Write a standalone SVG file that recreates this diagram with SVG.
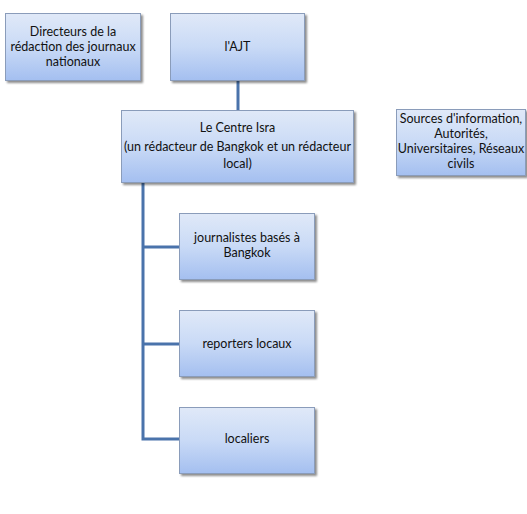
<svg xmlns="http://www.w3.org/2000/svg" width="527" height="514" viewBox="0 0 527 514">
<defs>
<linearGradient id="g" x1="0" y1="0" x2="0" y2="1">
<stop offset="0" stop-color="#e0e9f8"/>
<stop offset="0.5" stop-color="#c9daf6"/>
<stop offset="1" stop-color="#a4bff0"/>
</linearGradient>
<filter id="sh" x="-10%" y="-10%" width="125%" height="130%">
<feGaussianBlur in="SourceAlpha" stdDeviation="1.2"/>
<feOffset dx="1.5" dy="2" result="b"/>
<feComponentTransfer><feFuncA type="linear" slope="0.45"/></feComponentTransfer>
<feMerge><feMergeNode/><feMergeNode in="SourceGraphic"/></feMerge>
</filter>
</defs>
<style>
.box{fill:url(#g);stroke:#8a9cba;stroke-width:1;filter:url(#sh)}
.t{font-family:Lato,"Open Sans","Liberation Sans",sans-serif;font-size:12.5px;fill:#111111;text-anchor:middle}
.c{stroke:#4a73ab;stroke-width:3;fill:none}
</style>
<rect width="527" height="514" fill="#ffffff"/>
<g id="connectors">
<line class="c" x1="238" y1="81" x2="238" y2="110"/>
<path class="c" d="M143,183 V439 H179 M143,247 H179 M143,344 H179"/>
</g>
<g id="directeurs">
<rect class="box" x="5.5" y="13.5" width="135" height="67"/>
<text class="t" x="73" y="36">Directeurs de la</text>
<text class="t" x="73" y="51">rédaction des journaux</text>
<text class="t" x="73" y="66">nationaux</text>
</g>
<g id="ajt">
<rect class="box" x="170.5" y="13.5" width="134" height="67"/>
<text class="t" x="237.5" y="51">l'AJT</text>
</g>
<g id="centre">
<rect class="box" x="121.5" y="110.5" width="232" height="72"/>
<text class="t" x="237.5" y="132">Le Centre Isra</text>
<text class="t" x="237.5" y="151">(un rédacteur de Bangkok et un rédacteur</text>
<text class="t" x="237.5" y="168">local)</text>
</g>
<g id="sources">
<rect class="box" x="396.5" y="109.5" width="129" height="66"/>
<text class="t" x="461" y="123">Sources d'information,</text>
<text class="t" x="461" y="138">Autorités,</text>
<text class="t" x="461" y="153">Universitaires, Réseaux</text>
<text class="t" x="461" y="168">civils</text>
</g>
<g id="journalistes">
<rect class="box" x="179.5" y="213.5" width="135" height="66"/>
<text class="t" x="247" y="242">journalistes basés à</text>
<text class="t" x="247" y="257">Bangkok</text>
</g>
<g id="reporters">
<rect class="box" x="179.5" y="310.5" width="135" height="66"/>
<text class="t" x="247" y="348">reporters locaux</text>
</g>
<g id="localiers">
<rect class="box" x="179.5" y="407.5" width="135" height="66"/>
<text class="t" x="247" y="443">localiers</text>
</g>
</svg>
